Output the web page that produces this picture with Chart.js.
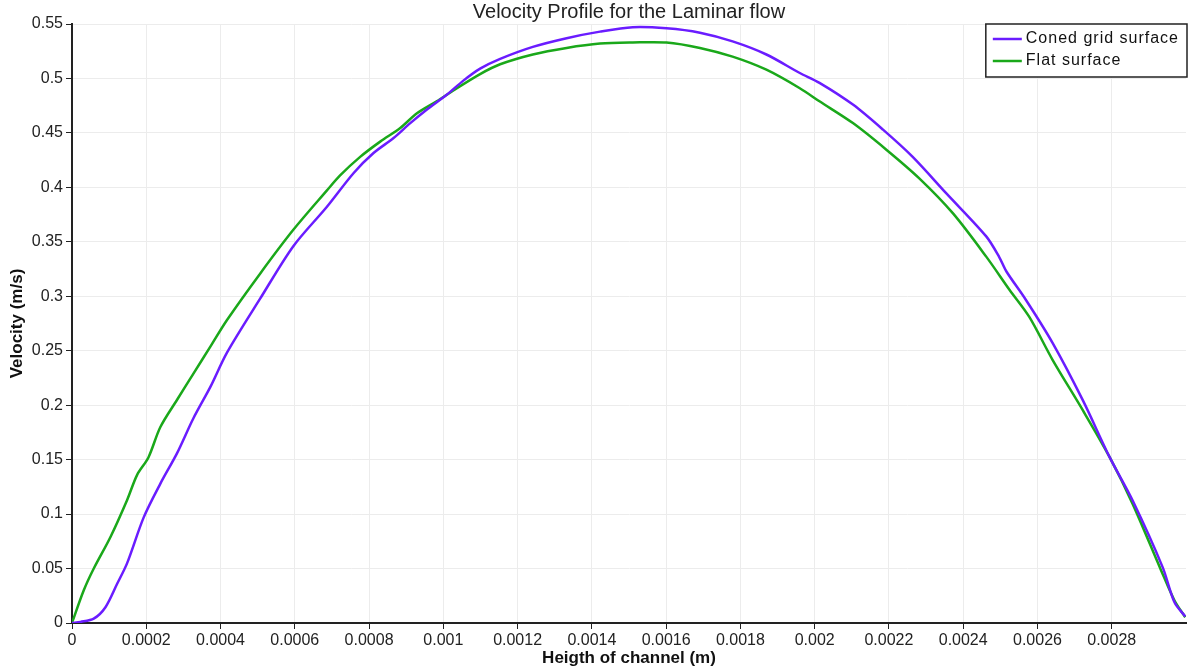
<!DOCTYPE html>
<html>
<head>
<meta charset="utf-8">
<title>Velocity Profile for the Laminar flow</title>
<script src="https://cdn.jsdelivr.net/npm/chart.js@4.4.1/dist/chart.umd.min.js"></script>
<style>
  html, body { margin: 0; padding: 0; background: #fff; }
  #chart { display: block; }
</style>
</head>
<body>
<canvas id="chart" width="1189" height="669"></canvas>
<script>
// Heigth of channel (m) / velocity (m/s)
const conedX = [
  0, 0.0000229, 0.0000586, 0.0000901, 0.0001216, 0.0001485, 0.0001931, 0.000238,
  0.000283, 0.000327, 0.000373, 0.000417, 0.000507, 0.000596, 0.000686, 0.000758,
  0.000812, 0.000866, 0.000911, 0.000955, 0.001009, 0.001054, 0.001099, 0.001153,
  0.001241, 0.001332, 0.001422, 0.00151, 0.001601, 0.001691, 0.001779, 0.00187,
  0.00196, 0.002013, 0.002103, 0.002184, 0.002264, 0.002354, 0.002462, 0.002497,
  0.002516, 0.002569, 0.002641, 0.002722, 0.002794, 0.002856, 0.002937, 0.002969, 0.002998
];
const conedV = [
  0, 0.001, 0.004, 0.0145, 0.036, 0.055, 0.097, 0.128,
  0.156, 0.188, 0.217, 0.248, 0.298, 0.346, 0.382, 0.413,
  0.4315, 0.4453, 0.459, 0.4713, 0.485, 0.498, 0.509, 0.518,
  0.529, 0.537, 0.543, 0.547, 0.546, 0.542, 0.534, 0.522,
  0.505, 0.496, 0.476, 0.453, 0.428, 0.3947, 0.355, 0.336,
  0.323, 0.2966, 0.257, 0.2046, 0.1525, 0.1127, 0.0513, 0.019, 0.006
];
const flatX = [
  0, 0.0000317, 0.0000586, 0.0001036, 0.0001485, 0.0001754, 0.0002058, 0.000238,
  0.000283, 0.000327, 0.000373, 0.000417, 0.000507, 0.000596, 0.000686, 0.000722,
  0.000776, 0.00083, 0.000884, 0.000929, 0.000982, 0.001027, 0.001099, 0.001153,
  0.001241, 0.001332, 0.001422, 0.00151, 0.001601, 0.001691, 0.001779, 0.00187,
  0.00196, 0.002013, 0.002103, 0.002193, 0.002281, 0.002372, 0.002462, 0.002525,
  0.002578, 0.002641, 0.002722, 0.002794, 0.002856, 0.002933, 0.002969, 0.002998
];
const flatV = [
  0, 0.03, 0.05, 0.079, 0.113, 0.136, 0.152, 0.18,
  0.205, 0.229, 0.254, 0.278, 0.321, 0.361, 0.397, 0.411,
  0.428, 0.442, 0.4545, 0.468, 0.479, 0.489, 0.504, 0.513,
  0.522, 0.528, 0.532, 0.533, 0.533, 0.528, 0.52, 0.508,
  0.491, 0.479, 0.459, 0.4346, 0.4085, 0.3763, 0.3364, 0.3058,
  0.281, 0.2414, 0.1954, 0.1525, 0.1096, 0.0483, 0.0207, 0.0053
];

const seriesNames = ['Coned grid surface', 'Flat surface'];
const seriesColors = ['#6a1cff', '#1aa81a'];

const xTicks = [0, 0.0002, 0.0004, 0.0006, 0.0008, 0.001, 0.0012, 0.0014,
  0.0016, 0.0018, 0.002, 0.0022, 0.0024, 0.0026, 0.0028];
const xTickLabels = ['0', '0.0002', '0.0004', '0.0006', '0.0008', '0.001', '0.0012', '0.0014',
  '0.0016', '0.0018', '0.002', '0.0022', '0.0024', '0.0026', '0.0028'];
const yTicks = [0, 0.05, 0.1, 0.15, 0.2, 0.25, 0.3, 0.35, 0.4, 0.45, 0.5, 0.55];
const yTickLabels = ['0', '0.05', '0.1', '0.15', '0.2', '0.25', '0.3', '0.35', '0.4', '0.45', '0.5', '0.55'];

const FONT = '"Liberation Sans", Arial, sans-serif';

const toPoints = (xs, ys) => xs.map((x, i) => ({ x, y: ys[i] }));

// legend drawn as a framed box in the top right corner of the plot
const boxLegend = {
  id: 'boxLegend',
  afterDatasetsDraw(chart) {
    const { ctx, chartArea } = chart;
    const sets = chart.data.datasets;
    ctx.save();
    ctx.font = '16px ' + FONT;
    ctx.letterSpacing = '1px';
    const textW = Math.max(...sets.map(d => ctx.measureText(d.label).width));
    const rowH = 22;
    const w = 7 + 29 + 4 + textW + 8;
    const h = sets.length * rowH + 9;
    const right = chartArea.right + 1;
    const left = right - w;
    const top = chartArea.top;
    ctx.fillStyle = '#fff';
    ctx.fillRect(left, top, w, h);
    ctx.strokeStyle = '#222';
    ctx.lineWidth = 1.5;
    ctx.strokeRect(left, top, w, h);
    sets.forEach((d, i) => {
      const y = top + 15 + i * rowH;
      ctx.strokeStyle = d.borderColor;
      ctx.lineWidth = 2.5;
      ctx.beginPath();
      ctx.moveTo(left + 7, y);
      ctx.lineTo(left + 36, y);
      ctx.stroke();
      ctx.fillStyle = '#111';
      ctx.textBaseline = 'middle';
      ctx.textAlign = 'left';
      ctx.fillText(d.label, left + 40, y);
    });
    ctx.restore();
  },
};

const ctx = document.getElementById('chart').getContext('2d');

new Chart(ctx, {
  type: 'line',
  data: {
    datasets: [
      {
        label: seriesNames[0],
        data: toPoints(conedX, conedV),
        borderColor: seriesColors[0],
        borderWidth: 2.5,
        pointRadius: 0,
        tension: 0.3,
        fill: false,
      },
      {
        label: seriesNames[1],
        data: toPoints(flatX, flatV),
        borderColor: seriesColors[1],
        borderWidth: 2.5,
        pointRadius: 0,
        tension: 0.3,
        fill: false,
      },
    ],
  },
  options: {
    responsive: false,
    animation: false,
    layout: { padding: { top: 0, right: 3, left: 0, bottom: 0 } },
    plugins: {
      legend: { display: false },
      tooltip: { enabled: false },
      title: {
        display: true,
        fullSize: false,
        text: 'Velocity Profile for the Laminar flow',
        color: '#222',
        font: { family: FONT, size: 20, weight: 'normal', lineHeight: 1.1 },
        padding: { top: 1, bottom: 1 },
      },
    },
    scales: {
      x: {
        type: 'linear',
        min: 0,
        max: 0.003,
        afterBuildTicks: scale => { scale.ticks = xTicks.map(v => ({ value: v })); },
        afterFit: scale => { scale.height = 46; },
        ticks: {
          color: '#222',
          font: { family: FONT, size: 16 },
          padding: 2,
          maxRotation: 0,
          autoSkip: false,
          callback: (v, i) => xTickLabels[i],
        },
        grid: { color: '#ececec', lineWidth: 1, tickColor: '#222', tickLength: 6 },
        border: { color: '#222', width: 2 },
        title: {
          display: true,
          text: 'Heigth of channel (m)',
          color: '#111',
          font: { family: FONT, size: 17, weight: 'bold' },
          padding: { top: 0, bottom: 0 },
        },
      },
      y: {
        type: 'linear',
        min: 0,
        max: 0.55,
        afterBuildTicks: scale => { scale.ticks = yTicks.map(v => ({ value: v })); },
        afterFit: scale => { scale.width = 72; },
        ticks: {
          color: '#222',
          font: { family: FONT, size: 16 },
          padding: 3,
          autoSkip: false,
          callback: (v, i) => yTickLabels[i],
        },
        grid: { color: '#ececec', lineWidth: 1, tickColor: '#222', tickLength: 6 },
        border: { color: '#222', width: 2 },
        title: {
          display: true,
          text: 'Velocity (m/s)',
          color: '#111',
          font: { family: FONT, size: 17, weight: 'bold' },
          padding: { top: 7, bottom: 0 },
        },
      },
    },
  },
  plugins: [boxLegend],
});
</script>
</body>
</html>
